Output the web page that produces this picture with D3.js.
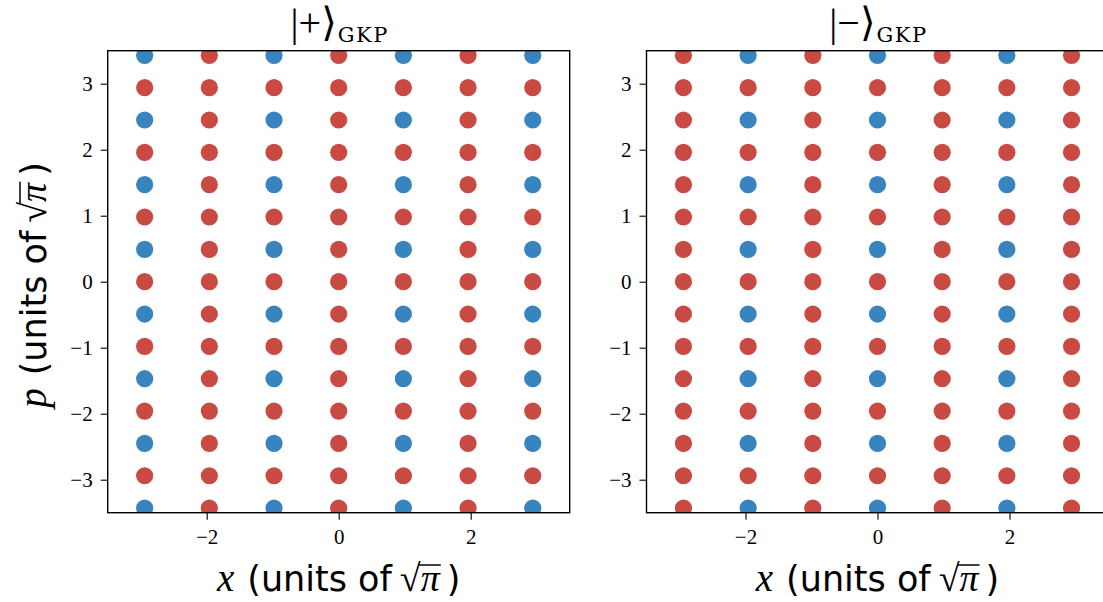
<!DOCTYPE html>
<html>
<head>
<meta charset="utf-8">
<script src="https://cdn.jsdelivr.net/npm/d3@7"></script>
<style>
  html, body { margin: 0; padding: 0; background: #fff; }
  svg { display: block; }
</style>
</head>
<body>
<svg id="chart" width="1103" height="602"></svg>
<script>
// Lattice positions (units of sqrt(pi)) of the GKP grid points
const gridX = [-2.94, -1.96, -0.98, 0, 0.98, 1.96, 2.94];
const gridP = [-3.43, -2.94, -2.45, -1.96, -1.47, -0.98, -0.49, 0, 0.49, 0.98, 1.47, 1.96, 2.45, 2.94, 3.43];
// Columns / rows carrying the highlighted peaks for each logical state
const plusBlueX = [-2.94, -0.98, 0.98, 2.94];
const minusBlueX = [-1.96, 0, 1.96];
const blueP = [-3.43, -2.45, -1.47, -0.49, 0.49, 1.47, 2.45, 3.43];
// Axis ticks
const xTicks = [-2, 0, 2];
const yTicks = [-3, -2, -1, 0, 1, 2, 3];
const axisLimit = [-3.5, 3.5];

const panels = [
  { id: "plus", sign: "+", blueX: plusBlueX, left: 107.7 },
  { id: "minus", sign: "\u2212", blueX: minusBlueX, left: 646.5 }
];

const BLUE = "#3884bf";
const RED = "#c94a43";
const plotTop = 50.7, plotSize = 462;
const serif = "'Liberation Serif', 'DejaVu Serif', serif";
const wideSerif = "'DejaVu Serif', 'Liberation Serif', serif";
const sans = "'DejaVu Sans', 'Liberation Sans', sans-serif";

const svg = d3.select("#chart");
const defs = svg.append("defs");

// Lay out a run of text segments left to right, centred on anchorX
function richText(g, segs, anchorX, baseY) {
  const items = [];
  let x = 0;
  segs.forEach(s => {
    const t = g.append("text")
      .attr("y", baseY + (s.dy || 0))
      .attr("font-family", s.family)
      .attr("font-size", s.size)
      .attr("font-style", s.italic ? "italic" : "normal")
      .attr("letter-spacing", s.spacing || 0)
      .attr("fill", "#000")
      .text(s.text);
    const w = t.node().getComputedTextLength();
    items.push({ t, x: x + (s.gapBefore || 0), w, s });
    x += (s.gapBefore || 0) + w + (s.gapAfter || 0);
  });
  const start = anchorX - x / 2;
  items.forEach(it => {
    it.t.attr("x", start + it.x);
    if (it.s.overline) {
      g.append("line")
        .attr("x1", start + it.x - 1.5).attr("x2", start + it.x + it.w + 1)
        .attr("y1", baseY + it.s.overline).attr("y2", baseY + it.s.overline)
        .attr("stroke", "#000").attr("stroke-width", 1.5);
    }
  });
  return x;
}

function axisLabel(sym) {
  return [
    { text: sym, family: serif, size: 39, italic: true, gapAfter: 13 },
    { text: "(units of", family: sans, size: 35, gapAfter: 8 },
    { text: "\u221A", family: serif, size: 38 },
    { text: "\u03C0", family: serif, size: 38, italic: true, overline: -26, gapAfter: 7 },
    { text: ")", family: sans, size: 35 }
  ];
}

panels.forEach(pn => {
  const x = d3.scaleLinear().domain(axisLimit).range([pn.left, pn.left + plotSize]);
  const y = d3.scaleLinear().domain(axisLimit).range([plotTop + plotSize, plotTop]);
  const g = svg.append("g");

  defs.append("clipPath").attr("id", "clip-" + pn.id)
    .append("rect").attr("x", pn.left).attr("y", plotTop).attr("width", plotSize).attr("height", plotSize);

  const pts = [];
  gridP.forEach(p => gridX.forEach(xv => {
    pts.push({ x: xv, p, blue: pn.blueX.includes(xv) && blueP.includes(p) });
  }));

  g.append("g").attr("clip-path", "url(#clip-" + pn.id + ")")
    .selectAll("circle").data(pts).join("circle")
    .attr("cx", d => x(d.x)).attr("cy", d => y(d.p)).attr("r", 8.6)
    .attr("fill", d => d.blue ? BLUE : RED);

  // Axes
  const fmt = d => d < 0 ? "\u2212" + Math.abs(d) : String(d);
  const xAxis = d3.axisBottom(x).tickValues(xTicks).tickSize(7).tickPadding(9).tickFormat(fmt);
  const yAxis = d3.axisLeft(y).tickValues(yTicks).tickSize(7).tickPadding(8).tickFormat(fmt);

  const gx = g.append("g").attr("transform", `translate(0,${plotTop + plotSize})`).call(xAxis);
  const gy = g.append("g").attr("transform", `translate(${pn.left},0)`).call(yAxis);
  [gx, gy].forEach(a => {
    a.select(".domain").remove();
    a.selectAll(".tick line").attr("stroke", "#000").attr("stroke-width", 1.1);
    a.selectAll(".tick text").attr("font-family", serif).attr("font-size", 21).attr("fill", "#000");
  });

  // Frame
  g.append("rect").attr("x", pn.left).attr("y", plotTop).attr("width", plotSize).attr("height", plotSize)
    .attr("fill", "none").attr("stroke", "#000").attr("stroke-width", 1.4);

  // Title |±>_GKP
  const cx = pn.left + plotSize / 2;
  richText(g, [
    { text: "|" + pn.sign + "\u27E9", family: serif, size: 40, gapAfter: 1 },
    { text: "GKP", family: wideSerif, size: 21, spacing: 1.5, dy: 5.5 }
  ], cx + 1, 36);

  // x label
  richText(g, axisLabel("x"), cx, 591);
});

// y label (left panel only)
const gyl = svg.append("g").attr("transform", "translate(46,285) rotate(-90)");
richText(gyl, axisLabel("p"), 0, 0);
</script>
</body>
</html>
